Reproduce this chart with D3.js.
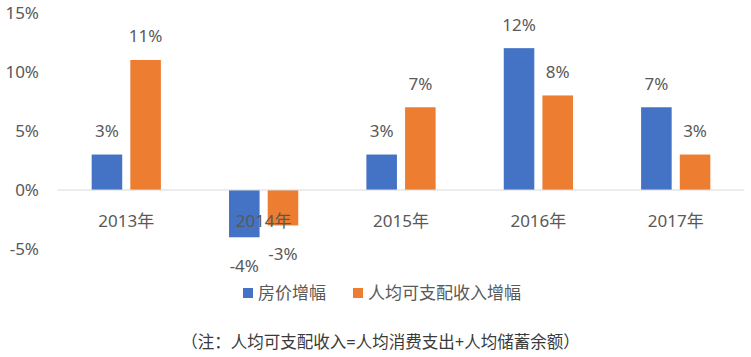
<!DOCTYPE html>
<html>
<head>
<meta charset="utf-8">
<script src="https://cdn.jsdelivr.net/npm/d3@7"></script>
<style>
  html, body { margin: 0; padding: 0; background: #fff; }
  svg { display: block; }
  text { font-family: "Noto Sans", "Noto Sans CJK SC", sans-serif; }
</style>
</head>
<body>
<svg id="chart" width="751" height="357"></svg>
<script>
const categories = ["2013年", "2014年", "2015年", "2016年", "2017年"];
const seriesNames = ["房价增幅", "人均可支配收入增幅"];
const housePrice = [3, -4, 3, 12, 7];
const income = [11, -3, 7, 8, 3];
const yTicks = [-5, 0, 5, 10, 15];
const note = "（注：人均可支配收入=人均消费支出+人均储蓄余额）";
const colors = ["#4472C4", "#ED7D31"];

const svg = d3.select("#chart");
const textColor = "#595959";

const y = d3.scaleLinear().domain([-5, 15]).range([249.1, 12.7]);
const x = d3.scaleBand().domain(categories).range([57.6, 744.4]).padding(0);
const bw = x.bandwidth();
const xi = d3.scaleBand().domain(seriesNames).range([bw * 0.248, bw * 0.752]).paddingInner(0.21);

// y tick labels
svg.append("g").selectAll("text").data(yTicks).join("text")
  .attr("x", 39).attr("y", d => y(d)).attr("dy", "0.35em")
  .attr("text-anchor", "end").attr("font-size", 17).attr("fill", textColor)
  .text(d => d + "%");

const seriesData = [housePrice, income];

// bars
seriesNames.forEach((s, si) => {
  const vals = seriesData[si];
  svg.append("g").selectAll("rect").data(categories).join("rect")
    .attr("x", (c) => x(c) + xi(s))
    .attr("width", xi.bandwidth())
    .attr("y", (c, i) => y(Math.max(0, vals[i])))
    .attr("height", (c, i) => Math.abs(y(vals[i]) - y(0)))
    .attr("fill", colors[si]);
});

// zero line
svg.append("line")
  .attr("x1", x.range()[0]).attr("x2", x.range()[1])
  .attr("y1", y(0)).attr("y2", y(0))
  .attr("stroke", "#d9d9d9").attr("stroke-width", 1.2);

// value labels
seriesNames.forEach((s, si) => {
  const vals = seriesData[si];
  svg.append("g").selectAll("text").data(categories).join("text")
    .attr("x", c => x(c) + xi(s) + xi.bandwidth() / 2)
    .attr("y", (c, i) => vals[i] >= 0 ? y(vals[i]) - 17.5 : y(vals[i]) + 34.5)
    .attr("text-anchor", "middle").attr("font-size", 17).attr("fill", textColor)
    .text((c, i) => vals[i] + "%");
});

// category labels
svg.append("g").selectAll("text").data(categories).join("text")
  .attr("x", c => x(c) + bw / 2).attr("y", 227)
  .attr("text-anchor", "middle").attr("font-size", 17).attr("fill", textColor)
  .text(c => c);

// legend
const legendX = [243, 353];
seriesNames.forEach((s, si) => {
  const g = svg.append("g").attr("transform", `translate(${legendX[si]},288)`);
  g.append("rect").attr("width", 10).attr("height", 10).attr("fill", colors[si]);
  g.append("text").attr("x", 15).attr("y", 5).attr("dy", "0.35em")
    .attr("font-size", 17).attr("fill", textColor).text(s);
});

// footnote
svg.append("text").attr("x", 380.5).attr("y", 342).attr("dy", "0.35em")
  .attr("text-anchor", "middle").attr("font-size", 16.5).attr("fill", "#3a3a3a")
  .text(note);
</script>
</body>
</html>
